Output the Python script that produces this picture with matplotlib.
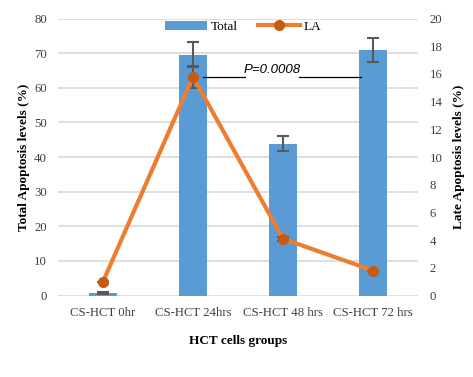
import numpy as np
import matplotlib.pyplot as plt

plt.rcParams['font.family'] = ['Liberation Serif', 'DejaVu Serif']

groups = ['CS-HCT 0hr', 'CS-HCT 24hrs', 'CS-HCT 48 hrs', 'CS-HCT 72 hrs']
total = [0.7, 69.5, 43.8, 71.0]
total_err = [0.3, 3.6, 2.2, 3.5]
late = [1.0, 15.8, 4.1, 1.8]
late_err = [0.0, 0.8, 0.15, 0.0]

x = np.arange(len(groups))

fig = plt.figure(figsize=(4.73, 3.77), dpi=100)
ax = fig.add_axes([58/473, 1 - 295.5/377, 360/473, 277/377])
ax2 = ax.twinx()

ax.bar(x, total, width=0.32, color='#5B9BD5', zorder=2, label='Total')
ax.errorbar(x, total, yerr=total_err, fmt='none', ecolor='#595959',
            elinewidth=1.5, capsize=4, capthick=1.5, zorder=3)

ax2.errorbar(x, late, yerr=late_err, fmt='none', ecolor='#595959',
             elinewidth=1.5, capsize=4, capthick=1.5, zorder=3)
ax2.plot(x, late, color='#ED7D31', lw=3, marker='o', ms=7,
         mfc='#C55A11', mec='#C55A11', zorder=4, label='LA')

ax.set_xlim(-0.5, 3.5)
ax.set_ylim(0, 80)
ax.set_yticks(range(0, 81, 10))
ax2.set_ylim(0, 20)
ax2.set_yticks(range(0, 21, 2))
ax.set_xticks(x)
ax.set_xticklabels(groups)

ax.grid(axis='y', color='#D9D9D9', lw=1.2, zorder=0)
ax.set_axisbelow(True)
for a in (ax, ax2):
    for s in a.spines.values():
        s.set_visible(False)
    a.tick_params(length=0, labelsize=9.2, colors='#404040')
ax.tick_params(axis='x', pad=8)
ax.tick_params(axis='y', pad=8)
ax2.tick_params(axis='y', pad=8.5)

ax.set_ylabel('Total Apoptosis levels (%)', fontsize=9.5, fontweight='bold', labelpad=3)
ax2.set_ylabel('Late Apoptosis levels (%)', fontsize=9.5, fontweight='bold', labelpad=7)
ax.set_xlabel('HCT cells groups', fontsize=9.5, fontweight='bold', labelpad=12)

# significance annotation
ax2.plot([1.11, 1.58], [15.8, 15.8], color='black', lw=0.9, zorder=5)
ax2.plot([2.18, 2.87], [15.8, 15.8], color='black', lw=0.9, zorder=5)
ax2.text(1.88, 15.85, 'P=0.0008', family=['Liberation Sans', 'DejaVu Sans'],
         style='italic', fontsize=9.5, ha='center', va='bottom', zorder=5)

h1, l1 = ax.get_legend_handles_labels()
h2, l2 = ax2.get_legend_handles_labels()
ax.legend(h1 + h2, l1 + l2, loc='upper center', bbox_to_anchor=(0.515, 1.035),
          ncol=2, frameon=False, fontsize=9.5, handlelength=3.2, columnspacing=1.5,
          handletextpad=0.3)

fig.savefig('out.png', dpi=100)
